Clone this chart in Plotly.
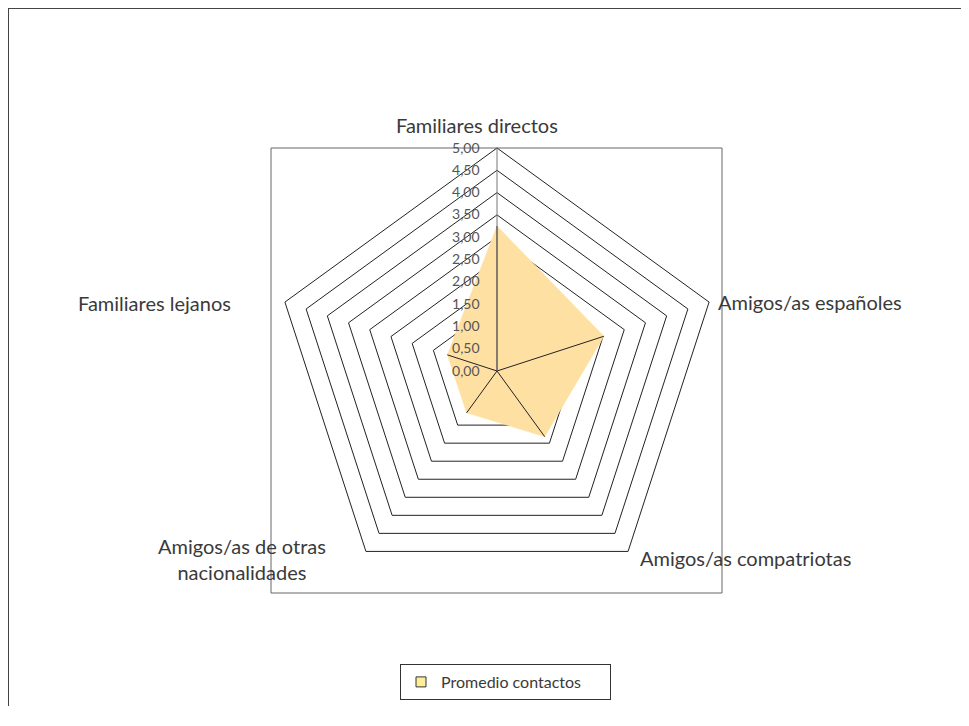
import plotly.graph_objects as go

categories = ["Familiares directos", "Amigos/as españoles", "Amigos/as compatriotas",
              "Amigos/as de otras nacionalidades", "Familiares lejanos"]
values = [3.25, 2.52, 1.82, 1.16, 1.17]
series_name = "Promedio contactos"
radial_ticks = [0, 0.5, 1, 1.5, 2, 2.5, 3, 3.5, 4, 4.5, 5]

FONT = "Lato"
TXT = "#3a3a3a"
OFF = 8  # page body margin
W, H = 969 - 2 * OFF, 726 - 2 * OFF - 12


def px(x):
    return (x - OFF) / W


def py(y):
    return 1 - (y - OFF) / H


fig = go.Figure()

fig.add_trace(go.Scatterpolar(
    r=values + [values[0]],
    theta=categories + [categories[0]],
    mode="lines",
    fill="toself",
    fillcolor="#FFE0A3",
    line=dict(color="#FFE0A3", width=0.5),
    name=series_name,
    showlegend=False,
))

# spokes from the centre to each data point
for c, v in zip(categories, values):
    fig.add_trace(go.Scatterpolar(
        r=[0, v], theta=[c, c], mode="lines",
        line=dict(color="#222222", width=1),
        showlegend=False, hoverinfo="skip",
    ))

# legend entry
fig.add_trace(go.Scatterpolar(
    r=[None], theta=[categories[0]], mode="markers",
    marker=dict(symbol="square", size=10, color="#FFEE99",
                line=dict(color="#333333", width=1)),
    name=series_name, showlegend=True,
))

fig.update_layout(
    width=W, height=H,
    margin=dict(l=0, r=0, t=0, b=0),
    paper_bgcolor="white",
    separators=",.",
    font=dict(family=FONT, color=TXT, size=14),
    polar=dict(
        domain=dict(x=[px(497 - 223), px(497 + 223)], y=[py(371 + 223), py(371 - 223)]),
        bgcolor="white",
        gridshape="linear",
        angularaxis=dict(
            direction="clockwise", rotation=90,
            showticklabels=False, ticks="",
            showgrid=False, showline=True,
            linecolor="#222222", linewidth=1,
        ),
        radialaxis=dict(
            range=[0, 5], tickvals=radial_ticks, tickformat=".2f",
            angle=90, side="counterclockwise",
            showline=True, linecolor="#777777", linewidth=1,
            gridcolor="#222222", gridwidth=1,
            ticks="outside", ticklen=12, tickcolor="rgba(0,0,0,0)",
            tickfont=dict(family=FONT, size=14, color="#555555"),
            tickangle=90,
        ),
    ),
    legend=dict(
        x=px(400), y=py(664), xanchor="left", yanchor="top",
        orientation="h",
        bordercolor="#333333", borderwidth=1,
        font=dict(family=FONT, size=16, color=TXT),
        bgcolor="white",
        entrywidth=164,
    ),
)

# outer chart frame (only top and left edges are inside the view)
fig.add_shape(type="line", xref="paper", yref="paper",
              x0=px(8), x1=1.0, y0=py(8), y1=py(8),
              line=dict(color="#444444", width=2), layer="below")
fig.add_shape(type="line", xref="paper", yref="paper",
              x0=px(8), x1=px(8), y0=0.0, y1=py(8),
              line=dict(color="#444444", width=2), layer="below")
# plot-area frame
fig.add_shape(type="rect", xref="paper", yref="paper",
              x0=px(271), x1=px(722), y0=py(593), y1=py(148),
              line=dict(color="#666666", width=1), layer="below")

# category labels
label_pos = [
    (477, 125, "center"),
    (716, 302, "left"),
    (638, 558, "left"),
    (242, 559, "center"),
    (233, 303, "right"),
]
for c, (lx, ly, al) in zip(categories, label_pos):
    txt = c.replace("de otras ", "de otras<br>")
    fig.add_annotation(
        x=px(lx), y=py(ly), xref="paper", yref="paper",
        text=txt, showarrow=False, xanchor=al, yanchor="middle",
        align="center", font=dict(family=FONT, size=20, color=TXT),
    )

fig.write_html("out.html")
